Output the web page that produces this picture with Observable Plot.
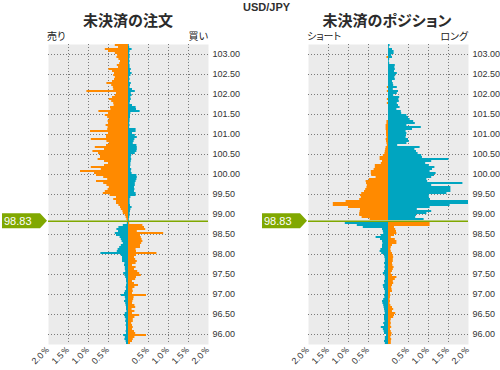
<!DOCTYPE html>
<html><head><meta charset="utf-8">
<script src="https://cdn.jsdelivr.net/npm/d3@7"></script>
<script src="https://cdn.jsdelivr.net/npm/@observablehq/plot@0.6"></script>
<style>
body{margin:0;background:#fff;}
#wrap{position:relative;width:500px;height:370px;overflow:hidden;font-family:"Liberation Sans",Arial,sans-serif;color:#333;}
#wrap svg{position:absolute;top:0;}
.t{position:absolute;white-space:nowrap;}
.jp{font-family:"Noto Sans CJK JP","Noto Sans",sans-serif;font-feature-settings:"palt";}
</style>
</head><body>
<div id="wrap"></div>
<script>
// ---- data ----
const pair = "USD/JPY";
const currentPrice = 98.83;
const bucketTop = 103.25;   // upper edge of first bucket
const bucketStep = 0.05;
const yTicks = [96, 96.5, 97, 97.5, 98, 98.5, 99, 99.5, 100, 100.5, 101, 101.5, 102, 102.5, 103];
const xTicks = [-2, -1.5, -1, -0.5, 0.5, 1, 1.5, 2];
const gridX = [-1.5, -1, -0.5, 0.5, 1, 1.5];

// open orders (%): sell side (left) and buy side (right), one value per bucket from the top
const orderSell = [
 0.33,0.25,0.58,0.50,0.33,0.27,0.29,0.24,0.20,0.22,
 0.28,0.25,0.49,0.40,0.35,0.37,0.33,0.35,0.40,0.54,
 0.42,0.38,0.37,1.04,0.30,0.33,0.40,0.48,0.42,0.37,
 0.36,0.45,0.44,0.74,0.50,0.58,0.52,0.48,0.51,0.50,
 0.56,0.51,0.52,0.95,0.50,0.55,0.55,0.93,0.54,0.48,
 0.55,0.83,0.60,0.89,0.75,0.70,0.70,0.76,0.60,0.50,
 0.60,0.93,0.68,1.20,0.85,0.80,0.62,0.52,0.80,0.62,
 0.54,0.48,0.51,0.58,0.63,0.46,0.30,0.37,0.30,0.30,
 0.24,0.20,0.18,0.14,0.13,0.08,0.06,0.04,0.02,0.03,
 0.13,0.24,0.29,0.25,0.33,0.30,0.21,0.18,0.16,0.13,
 0.18,0.22,0.26,0.28,0.69,0.18,0.15,0.15,0.15,0.09,
 0.10,0.08,0.08,0.07,0.12,0.09,0.07,0.05,0.05,0.04,
 0.05,0.06,0.05,0.08,0.10,0.18,0.08,0.07,0.10,0.07,
 0.06,0.05,0.05,0.04,0.08,0.10,0.08,0.06,0.07,0.05,
 0.06,0.05,0.05,0.06,0.05,0.12,0.08,0.09,0.06,0.05];
const orderBuy = [
 0.02,0.03,0.09,0.04,0.03,0.04,0.04,0.03,0.04,0.03,
 0.04,0.04,0.07,0.05,0.09,0.06,0.03,0.04,0.03,0.07,
 0.05,0.04,0.10,0.17,0.07,0.09,0.06,0.07,0.05,0.04,
 0.10,0.19,0.20,0.29,0.06,0.05,0.05,0.04,0.04,0.03,
 0.04,0.03,0.19,0.19,0.10,0.17,0.22,0.16,0.14,0.12,
 0.21,0.22,0.22,0.21,0.17,0.08,0.07,0.08,0.07,0.06,
 0.06,0.05,0.08,0.07,0.09,0.21,0.22,0.21,0.19,0.17,
 0.17,0.15,0.16,0.15,0.19,0.19,0.06,0.04,0.04,0.04,
 0.05,0.09,0.06,0.05,0.04,0.04,0.03,0.02,0.02,0.03,
 0.36,0.40,0.43,0.22,0.88,0.30,0.32,0.34,0.36,0.33,
 0.30,0.30,0.19,0.20,0.71,0.20,0.15,0.18,0.22,0.19,
 0.10,0.19,0.15,0.23,0.28,0.32,0.20,0.18,0.10,0.15,
 0.25,0.16,0.11,0.12,0.10,0.45,0.14,0.13,0.11,0.10,
 0.16,0.18,0.09,0.16,0.10,0.28,0.16,0.12,0.12,0.08,
 0.10,0.12,0.10,0.15,0.18,0.45,0.16,0.12,0.10,0.05];
// open positions (%): short (left) and long (right)
const posShort = [
 0,0,0,0,0,0,0.04,0,0,0,
 0,0,0,0,0,0,0,0,0,0,
 0,0.03,0,0.03,0,0,0,0.03,0,0.03,
 0,0,0,0,0,0,0,0,0.04,0.04,
 0.06,0.06,0.06,0.05,0.05,0.05,0.04,0.06,0.05,0.04,
 0.03,0.06,0.07,0.08,0.09,0.13,0.21,0.21,0.15,0.18,
 0.33,0.33,0.36,0.43,0.43,0.42,0.31,0.48,0.56,0.55,
 0.53,0.54,0.57,0.60,0.67,0.70,0.68,0.72,1.06,1.38,
 1.38,1.00,0.70,0.71,0.72,0.72,0.66,0.46,0,1.08,
 0.78,0.63,0.15,0.13,0.12,0.18,0.31,0.20,0.15,0.14,
 0.15,0.15,0.19,0.21,0.17,0.10,0.09,0.08,0.08,0.10,
 0.08,0.09,0.08,0.10,0.13,0.09,0.08,0.08,0.10,0.09,
 0.13,0.12,0.10,0.08,0.08,0.10,0.09,0.12,0.15,0.14,
 0.12,0.11,0.10,0.09,0.08,0.10,0.10,0.10,0.09,0.12,
 0.10,0.18,0.13,0.11,0.10,0.05,0.08,0.08,0.10,0.08];
const posLong = [
 0.04,0.02,0.10,0.14,0.14,0.08,0.10,0.03,0.02,0.03,
 0.17,0.16,0.17,0.15,0.22,0.18,0.16,0.17,0.10,0.12,
 0.13,0.22,0.12,0.25,0.22,0.13,0.28,0.26,0.27,0.22,
 0.25,0.29,0.21,0.32,0.33,0.46,0.50,0.54,0.63,0.67,
 0.46,0.82,0.60,0.44,0.46,0.45,0.44,0.50,0.52,0.46,
 0.23,0.79,0.66,0.70,0.74,0.83,0.85,1.51,1.08,0.93,
 1.02,1.16,1.10,1.04,1.19,1.15,1.08,0.96,0.98,1.86,
 1.08,1.56,1.56,1.56,1.46,1.02,1.02,1.05,2.00,2.00,
 1.54,1.04,0.72,1.08,0.96,0.70,0.68,0.89,0,1.04,
 1.04,0.15,0.18,0.20,0.21,0.15,0.07,0.17,0.21,0.21,
 0.10,0.07,0.06,0.07,0.10,0.12,0.13,0.12,0.12,0.10,
 0.11,0.14,0.12,0.10,0.07,0.10,0.21,0.17,0.12,0.13,
 0.10,0.08,0.09,0.10,0.05,0.06,0.05,0.04,0.05,0.04,
 0.06,0.10,0.13,0.10,0.18,0.15,0.13,0.07,0.06,0.07,
 0.06,0.08,0.05,0.07,0.09,0.08,0.06,0.08,0.07,0.07];

const ORANGE = "#ff8a00", TEAL = "#00a5c0", GREEN = "#80a800", PANEL = "#ebebeb";

function buildRows(left, right) {
  const rows = [];
  left.forEach((v, i) => {
    const hi = bucketTop - bucketStep * i, lo = hi - bucketStep;
    const above = hi > currentPrice + 1e-9;
    rows.push({lo, hi, x0: 0, x: -v, kind: above ? "a" : "b"});
    rows.push({lo, hi, x0: 0, x: right[i], kind: above ? "b" : "a"});
  });
  return rows;
}

function panel(left, right, width, marginLeft, marginRight) {
  const plot = Plot.plot({
    width, height: 370,
    marginTop: 44, marginBottom: 26, marginLeft, marginRight,
    style: {fontFamily: '"Liberation Sans", Arial, sans-serif', fontSize: "9px", color: "#333", background: "transparent", overflow: "visible"},
    x: {domain: [-2, 2], ticks: xTicks, tickFormat: d => Math.abs(d).toFixed(1) + "％", tickRotate: -45, tickSize: 0, tickPadding: 3, label: null},
    y: {domain: [95.75, 103.25], ticks: yTicks, tickFormat: d3.format(".2f"), axis: "right", tickSize: 0, tickPadding: 4, label: null},
    color: {domain: ["a", "b"], range: [ORANGE, TEAL]},
    marks: [
      Plot.frame({fill: PANEL, stroke: null}),
      Plot.ruleX(gridX, {stroke: "#7a7a7a", strokeDasharray: "1,2", strokeOpacity: 1}),
      Plot.ruleY(yTicks, {stroke: "#7a7a7a", strokeDasharray: "1,2", strokeOpacity: 1}),
      Plot.rect(buildRows(left, right), {x1: "x0", x2: "x", y1: "lo", y2: "hi", fill: "kind"}),
      Plot.ruleY([currentPrice], {stroke: GREEN, strokeWidth: 1.5})
    ]
  });
  const y = plot.scale("y").apply(currentPrice);
  const tip = marginLeft - 1;
  const s = d3.select(plot);
  s.append("path")
    .attr("d", `M2,${y - 7.5}H${tip - 7}L${tip},${y}L${tip - 7},${y + 7.5}H2Z`)
    .attr("fill", GREEN);
  s.append("text").attr("x", 4).attr("y", y + 4)
    .attr("text-anchor", "start")
    .attr("fill", "#fff").attr("font-size", 11)
    .attr("font-family", '"Liberation Sans", Arial, sans-serif')
    .text(currentPrice.toFixed(2));
  return plot;
}

const wrap = document.getElementById("wrap");
const p1 = panel(orderSell, orderBuy, 250, 48, 42);
p1.style.left = "0px";
wrap.appendChild(p1);
const p2 = panel(posShort, posLong, 240, 48, 32);
p2.style.left = "260px";
wrap.appendChild(p2);

function label(text, css, cls) {
  const d = document.createElement("div");
  d.className = "t " + (cls || "");
  d.textContent = text;
  Object.assign(d.style, css);
  wrap.appendChild(d);
}
label(pair, {left: "243px", top: "1px", fontSize: "11px", fontWeight: "bold", lineHeight: "13px", color: "#2f2f2f"});
label("未決済の注文", {left: "0px", width: "256px", textAlign: "center", top: "11px", fontSize: "15px", lineHeight: "17px", fontWeight: "bold", color: "#2b2b2b"}, "jp");
label("未決済のポジション", {left: "260px", width: "254px", textAlign: "center", top: "11px", fontSize: "15px", lineHeight: "17px", fontWeight: "bold", color: "#2b2b2b"}, "jp");
label("売り", {left: "47px", top: "30px", fontSize: "10px", lineHeight: "12px", color: "#222"}, "jp");
label("買い", {left: "150px", width: "58px", textAlign: "right", top: "30px", fontSize: "10px", lineHeight: "12px", color: "#222"}, "jp");
label("ショート", {left: "307px", top: "30px", fontSize: "10px", lineHeight: "12px", color: "#222"}, "jp");
label("ロング", {left: "400px", width: "68px", textAlign: "right", top: "30px", fontSize: "10px", lineHeight: "12px", color: "#222"}, "jp");
</script>
</body></html>
